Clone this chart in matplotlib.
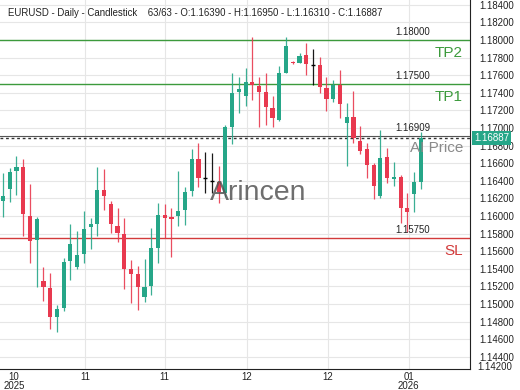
import matplotlib
matplotlib.use("Agg")
import matplotlib.pyplot as plt
import matplotlib.transforms as mtransforms

plt.rcParams['font.family'] = ['Liberation Sans', 'DejaVu Sans']

# ---------------- data ----------------
opens = [1.16174, 1.16303, 1.16511, 1.16560, 1.16000, 1.15727, 1.15261, 1.15185, 1.14856, 1.14951,
         1.15489, 1.15424, 1.15568, 1.15872, 1.15909, 1.16295, 1.16136, 1.15890, 1.15792, 1.15394,
         1.15338, 1.15076, 1.15205, 1.15640, 1.16011, 1.15992, 1.16000, 1.16068, 1.16288, 1.16648,
         1.16429, 1.16398, 1.16390, 1.16265, 1.17015, 1.17409, 1.17367, 1.17526, 1.17477, 1.17413,
         1.17231, 1.17091, 1.17628, 1.17747, 1.17735, 1.17830, 1.17716, 1.17716, 1.17451, 1.17326,
         1.17489, 1.17053, 1.17128, 1.16856, 1.16758, 1.16580, 1.16231, 1.16674, 1.16420, 1.16440,
         1.16088, 1.16247, 1.16390]
highs = [1.16489, 1.16549, 1.16682, 1.16648, 1.16364, 1.15985, 1.15424, 1.15349, 1.14989, 1.15526,
         1.15909, 1.15830, 1.16057, 1.15974, 1.16553, 1.16534, 1.16170, 1.16087, 1.15974, 1.15500,
         1.15435, 1.15508, 1.15867, 1.16144, 1.16136, 1.16087, 1.16515, 1.16333, 1.16761, 1.16826,
         1.16724, 1.16719, 1.16568, 1.17034, 1.17628, 1.17583, 1.17685, 1.18031, 1.17583, 1.17628,
         1.17364, 1.17705, 1.18031, 1.17765, 1.17849, 1.17969, 1.17894, 1.17803, 1.17583, 1.17545,
         1.17659, 1.17281, 1.17420, 1.17023, 1.16833, 1.16606, 1.16977, 1.16769, 1.16617, 1.16466,
         1.16265, 1.16503, 1.16950]
lows = [1.15989, 1.16162, 1.16239, 1.15773, 1.15469, 1.15197, 1.15037, 1.14712, 1.14685, 1.14920,
        1.15273, 1.15398, 1.15463, 1.15625, 1.15773, 1.16068, 1.15803, 1.15702, 1.15170, 1.15008,
        1.14932, 1.15027, 1.15102, 1.15463, 1.15747, 1.15538, 1.15883, 1.15898, 1.16227, 1.16333,
        1.16258, 1.16258, 1.16144, 1.16219, 1.16818, 1.17174, 1.17250, 1.17318, 1.17015, 1.17034,
        1.17008, 1.17083, 1.17622, 1.17731, 1.17735, 1.17602, 1.17489, 1.17401, 1.17193, 1.17299,
        1.17110, 1.16568, 1.16833, 1.16705, 1.16429, 1.16190, 1.16208, 1.16372, 1.16341, 1.15917,
        1.15822, 1.16049, 1.16310]
closes = [1.16227, 1.16503, 1.16560, 1.16019, 1.15716, 1.15962, 1.15190, 1.14856, 1.14943, 1.15481,
          1.15678, 1.15557, 1.15852, 1.15909, 1.16295, 1.16231, 1.15906, 1.15803, 1.15394, 1.15341,
          1.15190, 1.15190, 1.15640, 1.16011, 1.15974, 1.15966, 1.16060, 1.16276, 1.16648, 1.16429,
          1.16429, 1.16398, 1.16276, 1.17015, 1.17401, 1.17440, 1.17519, 1.17489, 1.17413, 1.17235,
          1.17110, 1.17628, 1.17932, 1.17735, 1.17818, 1.17724, 1.17716, 1.17462, 1.17326, 1.17489,
          1.17273, 1.17128, 1.16883, 1.16742, 1.16580, 1.16341, 1.16663, 1.16429, 1.16447, 1.16088,
          1.16049, 1.16390, 1.16887]

x_tick_pos = [1.6, 12.2, 24.0, 36.2, 48.2, 60.2]
x_tick_labels = ["10\n2025", "11", "11", "12", "12", "01\n2026"]
y_ticks = [1.144, 1.146, 1.148, 1.150, 1.152, 1.154, 1.156, 1.158, 1.160, 1.162,
           1.164, 1.166, 1.168, 1.170, 1.172, 1.174, 1.176, 1.178, 1.180, 1.182, 1.184]
y_bottom_label = "1.14200"

tp2, tp1, sl = 1.18000, 1.17500, 1.15750
ai_price = 1.16909
last_price = 1.16887
title = "EURUSD - Daily - Candlestick    63/63 - O:1.16390 - H:1.16950 - L:1.16310 - C:1.16887"

# ---------------- style ----------------
GREEN = '#26a688'
RED = '#e8394f'
LINE_GREEN = '#3c9a3c'
LINE_RED = '#d23a3a'

fig = plt.figure(figsize=(5.2, 3.9), dpi=100)
ax = fig.add_axes([0.0, 21 / 390, 470 / 520, 369 / 390])

ax.set_xlim(-0.445, 69.3)
ax.set_ylim(1.142614, 1.184545)

# grid
for yv in y_ticks:
    ax.axhline(yv, color='#e6e6e6', lw=0.8, zorder=0)
for xv in x_tick_pos[1:]:
    ax.axvline(xv, color='#e6e6e6', lw=0.8, zorder=0)

# candles
for i, (o, h, l, c) in enumerate(zip(opens, highs, lows, closes)):
    if c > o:
        col = GREEN
    elif c < o:
        col = RED
    else:
        col = 'black'
    ax.vlines(i, l, h, color=col, lw=0.9, alpha=0.9, zorder=3)
    if c == o:
        ax.hlines(o, i - 0.3, i + 0.3, color=col, lw=1.0, zorder=4)
    else:
        ax.bar(i, abs(c - o), bottom=min(o, c), width=0.62, color=col, lw=0, zorder=4)

# level lines
ax.axhline(tp2, color=LINE_GREEN, lw=1.0, zorder=2)
ax.axhline(tp1, color=LINE_GREEN, lw=1.0, zorder=2)
ax.axhline(sl, color=LINE_RED, lw=1.0, zorder=2)
ax.axhline(ai_price, color='#555555', lw=0.8, zorder=2)
ax.axhline(last_price, color='#333333', lw=1.0, ls=(0, (2, 2)), zorder=2)

trans = mtransforms.blended_transform_factory(ax.transAxes, ax.transData)
lbl_x = 395 / 470
for val in (tp2, tp1, ai_price, sl):
    ax.text(lbl_x, val + 0.00035, f"{val:.5f}", transform=trans, fontsize=6.9,
            color='#222222', ha='left', va='bottom', zorder=6)

ax.text(0.985, tp2 - 0.0015, "TP2", transform=trans, fontsize=11, color=LINE_GREEN,
        ha='right', va='center', zorder=6)
ax.text(0.985, tp1 - 0.0015, "TP1", transform=trans, fontsize=11, color=LINE_GREEN,
        ha='right', va='center', zorder=6)
ax.text(0.985, sl - 0.0015, "SL", transform=trans, fontsize=11, color=LINE_RED,
        ha='right', va='center', zorder=6)
ax.text(0.985, ai_price - 0.0014, "AI Price", transform=trans, fontsize=11, color='#8a8a8a',
        ha='right', va='center', zorder=6)

# watermark
ax.text(0.549, 0.477, "Arincen", transform=ax.transAxes, fontsize=20.5, color='#555555',
        alpha=0.85, ha='center', va='center', zorder=5)

# header
fig.text(8 / 520, 1 - 13 / 390, title, fontsize=6.9, color='#222222', ha='left', va='center')

# axes cosmetics
ax.spines['top'].set_visible(False)
ax.spines['left'].set_visible(False)
ax.spines['right'].set_color('#222222')
ax.spines['bottom'].set_color('#222222')
ax.yaxis.tick_right()
ax.set_yticks(y_ticks)
ax.set_yticklabels([f"{v:.5f}" for v in y_ticks])
ax.tick_params(axis='y', length=0, pad=7, labelsize=6.9, labelcolor='#222222')
ax.set_xticks(x_tick_pos)
ax.set_xticklabels(x_tick_labels)
ax.tick_params(axis='x', length=0, pad=2, labelsize=6.9, labelcolor='#222222')
for lab in ax.get_xticklabels():
    lab.set_linespacing(0.85)

ax.text(1.0 + 7 / 470, -0.009, y_bottom_label, transform=ax.transAxes, fontsize=6.9,
        color='#222222', ha='left', va='bottom')

# last price box
ax.text(1.0 + 4 / 470, last_price, f"{last_price:.5f}", transform=trans, fontsize=7,
        color='white', ha='left', va='center', zorder=7,
        bbox=dict(boxstyle='square,pad=0.25', fc='#26a688', ec='none'))

fig.savefig("out.png", dpi=100)
